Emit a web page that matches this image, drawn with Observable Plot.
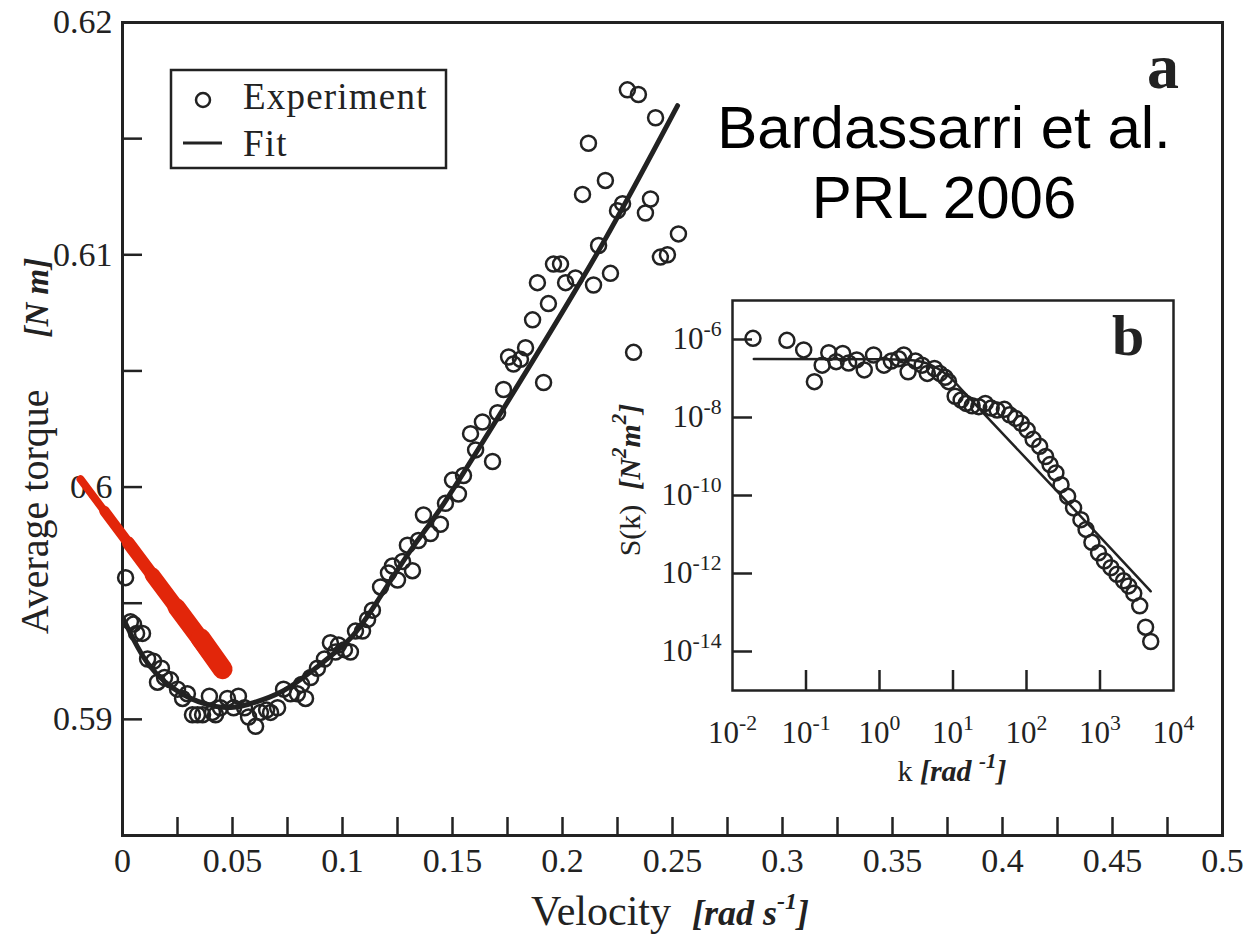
<!DOCTYPE html>
<html>
<head>
<meta charset="utf-8">
<script src="https://cdn.jsdelivr.net/npm/d3@7"></script>
<script src="https://cdn.jsdelivr.net/npm/@observablehq/plot@0.6"></script>
<style>
  body { margin: 0; background: #fff; }
  #chart { position: relative; width: 1250px; height: 939px; }
  #chart svg { position: absolute; }
</style>
</head>
<body>
<div id="chart"></div>
<script>
// Panel a: average torque versus rotation velocity
const velocity = [
  0.0014, 0.0036, 0.0050, 0.0064, 0.0091, 0.0114, 0.0141, 0.0159, 0.0177, 0.0191,
  0.0218, 0.0250, 0.0273, 0.0295, 0.0318, 0.0341, 0.0364, 0.0395, 0.0409, 0.0423,
  0.0445, 0.0477, 0.0505, 0.0527, 0.0555, 0.0573, 0.0605, 0.0627, 0.0655, 0.0673,
  0.0705, 0.0732, 0.0764, 0.0795, 0.0814, 0.0832, 0.0855, 0.0886, 0.0918, 0.0945,
  0.0968, 0.0982, 0.1009, 0.1036, 0.1059, 0.1091, 0.1114, 0.1136, 0.1173, 0.1209,
  0.1227, 0.1250, 0.1273, 0.1295, 0.1318, 0.1345, 0.1368, 0.1400, 0.1445, 0.1468,
  0.1500, 0.1527, 0.1550, 0.1582, 0.1605, 0.1636, 0.1682, 0.1705, 0.1732, 0.1755,
  0.1777, 0.1809, 0.1832, 0.1864, 0.1886, 0.1914, 0.1936, 0.1959, 0.1991, 0.2014,
  0.2059, 0.2091, 0.2118, 0.2141, 0.2164, 0.2195, 0.2218, 0.2250, 0.2273, 0.2295,
  0.2323, 0.2345, 0.2377, 0.2400, 0.2423, 0.2445, 0.2477, 0.2527
];
const torque = [
  0.5961, 0.5942, 0.5941, 0.5937, 0.5937, 0.5926, 0.5925, 0.5916, 0.5922, 0.5918,
  0.5917, 0.5913, 0.5909, 0.5911, 0.5902, 0.5902, 0.5902, 0.5910, 0.5903, 0.5902,
  0.5905, 0.5909, 0.5905, 0.5910, 0.5905, 0.5901, 0.5897, 0.5903, 0.5904, 0.5903,
  0.5905, 0.5913, 0.5911, 0.5911, 0.5915, 0.5909, 0.5918, 0.5922, 0.5926, 0.5933,
  0.5929, 0.5932, 0.5930, 0.5929, 0.5938, 0.5938, 0.5943, 0.5947, 0.5957, 0.5963,
  0.5966, 0.5960, 0.5968, 0.5975, 0.5964, 0.5977, 0.5988, 0.5980, 0.5984, 0.5993,
  0.6003, 0.5997, 0.6005, 0.6023, 0.6016, 0.6028, 0.6011, 0.6032, 0.6042, 0.6056,
  0.6053, 0.6055, 0.6060, 0.6072, 0.6088, 0.6045, 0.6079, 0.6096, 0.6096, 0.6088,
  0.6090, 0.6126, 0.6148, 0.6087, 0.6104, 0.6132, 0.6092, 0.6119, 0.6122, 0.6171,
  0.6058, 0.6169, 0.6118, 0.6124, 0.6159, 0.6099, 0.6100, 0.6109
];

// Fitted curve through the torque data
const fitVelocity = [0.0005, 0.0118, 0.0273, 0.0423, 0.0505, 0.0573, 0.0727, 0.0877,
  0.1036, 0.1164, 0.1323, 0.1468, 0.1809, 0.2182, 0.2523];
const fitTorque = [0.59431, 0.59237, 0.59108, 0.59056, 0.59052, 0.59065, 0.59121, 0.59220,
  0.59349, 0.59517, 0.59746, 0.59940, 0.60457, 0.61047, 0.61642];

// Red marker stroke drawn over the low-velocity branch (top end to bottom end)
const highlightVelocity = [-0.0191, -0.0082, 0.0027, 0.0136, 0.0245, 0.0355, 0.0455];
const highlightTorque = [0.60034, 0.59897, 0.59759, 0.59621, 0.59483, 0.59349, 0.59216];

// Panel a ticks
const xTicks = [0.025, 0.05, 0.075, 0.1, 0.125, 0.15, 0.175, 0.2, 0.225, 0.25,
  0.275, 0.3, 0.325, 0.35, 0.375, 0.4, 0.425, 0.45, 0.475];
const xTickLabels = [0, 0.05, 0.1, 0.15, 0.2, 0.25, 0.3, 0.35, 0.4, 0.45, 0.5];
const yTicks = [0.59, 0.595, 0.6, 0.605, 0.61, 0.615];
const yTickLabels = [0.59, 0.6, 0.61, 0.62];

// Panel b: spectrum S(k)
const waveNumber = [
  0.019, 0.055, 0.093, 0.13, 0.166, 0.204, 0.257, 0.316, 0.38, 0.49,
  0.62, 0.83, 1.15, 1.45, 1.82, 2.14, 2.45, 3.09, 3.8, 4.47,
  5.6, 6.6, 7.8, 8.7, 10.7, 12.9, 15.1, 18.2, 22.4, 27.5,
  33.1, 39.8, 50, 59, 71, 85, 102, 123, 151, 182,
  209, 251, 295, 363, 437, 550, 646, 776, 955, 1150,
  1410, 1700, 2090, 2450, 2880, 3470, 4170, 4900
];
const spectrum = [
  1.07e-6, 9.5e-7, 5.4e-7, 8.3e-8, 2.2e-7, 4.6e-7, 2.7e-7, 4.4e-7, 2.5e-7, 3.0e-7,
  1.66e-7, 4.0e-7, 2.2e-7, 2.8e-7, 3.2e-7, 4.0e-7, 1.48e-7, 2.8e-7, 2.2e-7, 1.35e-7,
  1.8e-7, 1.35e-7, 1.07e-7, 8.3e-8, 3.5e-8, 2.8e-8, 2.3e-8, 2.0e-8, 1.9e-8, 2.3e-8,
  1.74e-8, 1.55e-8, 1.62e-8, 1.17e-8, 9.5e-9, 7.1e-9, 4.8e-9, 2.75e-9, 1.82e-9, 1.0e-9,
  6.2e-10, 3.8e-10, 1.9e-10, 9.5e-11, 4.8e-11, 2.4e-11, 1.35e-11, 6.3e-12, 3.4e-12, 2.1e-12,
  1.41e-12, 9.5e-13, 6.5e-13, 4.8e-13, 3.1e-13, 1.48e-13, 4.2e-14, 1.8e-14
];
const fitWaveNumber = [0.0195, 1, 2.5, 5, 8.9, 14.1, 25.7, 100, 1000, 4900];
const fitSpectrum = [3.16e-7, 3.1e-7, 3.0e-7, 2.24e-7, 1.12e-7, 4.47e-8, 1.32e-8, 8.7e-10, 8.7e-12, 3.5e-13];

// Panel b ticks
const kTicks = [0.1, 1, 10, 100, 1000];
const kTickLabels = [0.01, 0.1, 1, 10, 100, 1000, 10000];
const sTicks = [1e-6, 1e-8, 1e-10, 1e-12, 1e-14];

const ink = "#222";
const red = "#e2260a";
const serif = "'Liberation Serif', 'Times New Roman', serif";
const sans = "'Liberation Sans', Arial, sans-serif";

const points = velocity.map((v, i) => ({v, t: torque[i]}));
const fit = fitVelocity.map((v, i) => ({v, t: fitTorque[i]}));
const highlight = highlightVelocity.map((v, i) => ({v, t: highlightTorque[i]}));
const tip = highlight[highlight.length - 1];

// Marker stroke: overlapping segments ending at the tip, each wider than the last
const markerWidths = [8, 10.5, 13, 15.5, 18, 20];
const markerMarks = markerWidths.map((w, i) => Plot.link([highlight[i]], {
  x1: "v", y1: "t", x2: () => tip.v, y2: () => tip.t,
  stroke: red, strokeWidth: w, strokeLinecap: "round"
}));

const main = Plot.plot({
  width: 1250,
  height: 939,
  marginLeft: 122,
  marginRight: 28,
  marginTop: 22,
  marginBottom: 104,
  style: {fontFamily: serif, background: "white", color: ink, overflow: "visible"},
  x: {domain: [0, 0.5]},
  y: {domain: [0.585, 0.62]},
  marks: [
    Plot.axisX(xTicks, {tickSize: -18, strokeWidth: 2.5, tickFormat: () => "", label: null}),
    Plot.axisX(xTickLabels, {tickSize: 0, tickPadding: 12, fontSize: 34, tickFormat: d => String(d), label: null}),
    Plot.axisY(yTicks, {tickSize: -20, strokeWidth: 2.5, tickFormat: () => "", label: null}),
    Plot.axisY(yTickLabels, {tickSize: 0, tickPadding: 10, fontSize: 34, tickFormat: d => String(d), label: null}),
    Plot.frame({stroke: ink, strokeWidth: 3}),
    Plot.line(fit, {x: "v", y: "t", curve: "natural", stroke: ink, strokeWidth: 5}),
    Plot.dot(points, {x: "v", y: "t", r: 7.5, stroke: ink, strokeWidth: 2.5, fill: "none"}),
    ...markerMarks
  ]
});
main.style.left = "0px";
main.style.top = "0px";

const spec = waveNumber.map((k, i) => ({k, s: spectrum[i]}));
const specFit = fitWaveNumber.map((k, i) => ({k, s: fitSpectrum[i]}));
const pow10 = d => "10^" + Math.round(Math.log10(d));

const inset = Plot.plot({
  width: 600,
  height: 480,
  marginLeft: 132,
  marginRight: 27,
  marginTop: 10,
  marginBottom: 80,
  style: {fontFamily: serif, background: "transparent", color: ink, overflow: "visible"},
  x: {type: "log", domain: [1e-2, 1e4]},
  y: {type: "log", domain: [1e-15, 1e-5]},
  marks: [
    Plot.axisX(kTicks, {tickSize: -20, strokeWidth: 2.5, tickFormat: () => "", label: null}),
    Plot.axisX(kTickLabels, {tickSize: 0, tickPadding: 30, fontSize: 31, tickFormat: pow10, label: null}),
    Plot.axisY(sTicks, {tickSize: -20, strokeWidth: 2.5, tickFormat: () => "", label: null}),
    Plot.axisY(sTicks, {tickSize: 0, tickPadding: 11, fontSize: 31, tickFormat: pow10, label: null}),
    Plot.frame({stroke: ink, strokeWidth: 2.5}),
    Plot.line(specFit, {x: "k", y: "s", curve: "monotone-x", stroke: ink, strokeWidth: 2.5}),
    Plot.dot(spec, {x: "k", y: "s", r: 7.5, stroke: ink, strokeWidth: 2.5, fill: "none"})
  ]
});
inset.style.left = "600px";
inset.style.top = "290px";

const chart = document.getElementById("chart");
chart.append(main, inset);

// Power-of-ten labels: split "10^e" into base and raised exponent
d3.select(inset).selectAll('g[aria-label="x-axis tick label"] text, g[aria-label="y-axis tick label"] text')
  .each(function () {
    const [base, exp] = this.textContent.split("^");
    if (exp === undefined) return;
    const t = d3.select(this).text(null);
    t.append("tspan").text(base);
    t.append("tspan").attr("dy", "-0.6em").attr("font-size", "0.7em").text(exp);
  });

const svgA = d3.select(main);

// Legend
const legend = svgA.append("g").attr("font-family", serif).attr("fill", ink).attr("text-anchor", "start");
legend.append("rect").attr("x", 171).attr("y", 70).attr("width", 275).attr("height", 98)
  .attr("fill", "white").attr("stroke", ink).attr("stroke-width", 2.5);
legend.append("circle").attr("cx", 203).attr("cy", 100).attr("r", 7)
  .attr("fill", "none").attr("stroke", ink).attr("stroke-width", 2.5);
legend.append("line").attr("x1", 183).attr("x2", 222).attr("y1", 143).attr("y2", 143)
  .attr("stroke", ink).attr("stroke-width", 3);
legend.append("text").attr("x", 243).attr("y", 109).attr("font-size", 37)
  .attr("letter-spacing", 1.2).text("Experiment");
legend.append("text").attr("x", 243).attr("y", 156).attr("font-size", 37)
  .attr("letter-spacing", 1.2).text("Fit");

// Panel letter and citation
svgA.append("text").attr("x", 1147).attr("y", 88).attr("text-anchor", "start").attr("font-family", serif)
  .attr("font-weight", "bold").attr("font-size", 64).attr("fill", ink).text("a");
const cite = svgA.append("text").attr("font-family", sans).attr("font-size", 60)
  .attr("fill", "black").attr("text-anchor", "middle");
cite.append("tspan").attr("x", 944).attr("y", 148).text("Bardassarri et al.");
cite.append("tspan").attr("x", 944).attr("y", 218).text("PRL 2006");

// Axis titles for panel a
const xTitle = svgA.append("text").attr("x", 670).attr("y", 925).attr("text-anchor", "middle")
  .attr("font-family", serif).attr("font-size", 42).attr("fill", ink);
xTitle.append("tspan").text("Velocity  ");
xTitle.append("tspan").attr("font-weight", "bold").attr("font-style", "italic").attr("font-size", 36).text("[rad s");
xTitle.append("tspan").attr("font-weight", "bold").attr("font-style", "italic").attr("font-size", 24).attr("dy", -16).text("-1");
xTitle.append("tspan").attr("font-weight", "bold").attr("font-style", "italic").attr("font-size", 36).attr("dy", 16).text("]");

const yTitle = svgA.append("text").attr("transform", "translate(48,446) rotate(-90)")
  .attr("text-anchor", "middle").attr("font-family", serif).attr("font-size", 40).attr("fill", ink);
yTitle.append("tspan").text("Average torque");
yTitle.append("tspan").attr("dx", 52).attr("font-weight", "bold").attr("font-style", "italic").attr("font-size", 33).text("[N m]");

// Panel b letter and axis titles
const svgB = d3.select(inset);
svgB.append("text").attr("x", 512).attr("y", 65).attr("text-anchor", "start").attr("font-family", serif)
  .attr("font-weight", "bold").attr("font-size", 58).attr("fill", ink).text("b");

const kTitle = svgB.append("text").attr("x", 352).attr("y", 491).attr("text-anchor", "middle")
  .attr("font-family", serif).attr("font-size", 30).attr("fill", ink);
kTitle.append("tspan").text("k ");
kTitle.append("tspan").attr("font-weight", "bold").attr("font-style", "italic").text("[rad ");
kTitle.append("tspan").attr("font-weight", "bold").attr("font-style", "italic").attr("font-size", 21).attr("dy", -13).text("-1");
kTitle.append("tspan").attr("font-weight", "bold").attr("font-style", "italic").attr("dy", 13).text("]");

const sTitle = svgB.append("text").attr("transform", "translate(40,190) rotate(-90)")
  .attr("text-anchor", "middle").attr("font-family", serif).attr("font-size", 30).attr("fill", ink);
sTitle.append("tspan").text("S(k)  ");
sTitle.append("tspan").attr("font-weight", "bold").attr("font-style", "italic").text("[N");
sTitle.append("tspan").attr("font-weight", "bold").attr("font-style", "italic").attr("font-size", 21).attr("dy", -14).text("2");
sTitle.append("tspan").attr("font-weight", "bold").attr("font-style", "italic").attr("dy", 14).text("m");
sTitle.append("tspan").attr("font-weight", "bold").attr("font-style", "italic").attr("font-size", 21).attr("dy", -14).text("2");
sTitle.append("tspan").attr("font-weight", "bold").attr("font-style", "italic").attr("dy", 14).text("]");
</script>
</body>
</html>
